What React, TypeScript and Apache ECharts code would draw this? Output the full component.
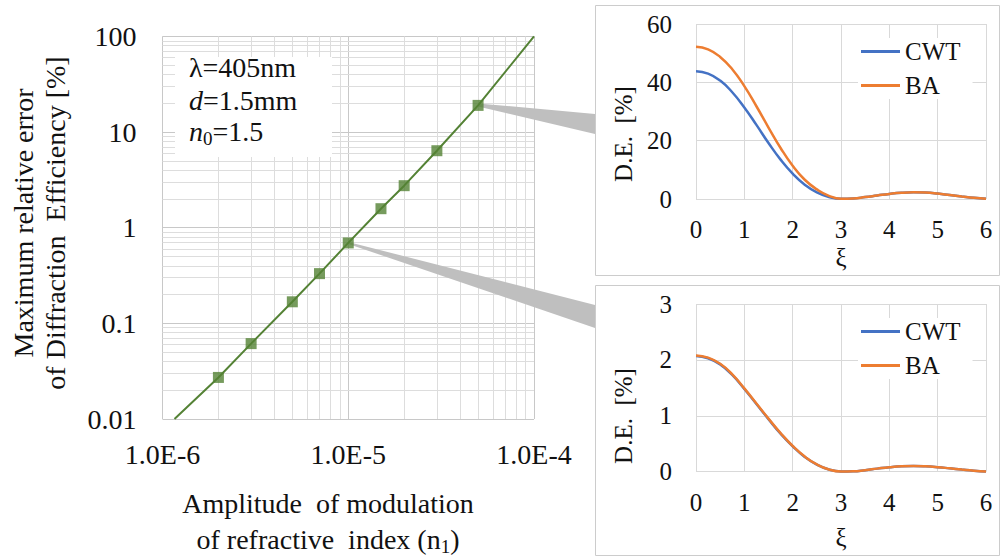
import React, { useEffect, useRef } from 'react';
import * as echarts from 'echarts';

const FONT = '"Liberation Serif", "Times New Roman", serif';

// Main chart data (log-log)
const n1Markers = [2e-6, 3e-6, 5e-6, 7e-6, 1e-5, 1.5e-5, 2e-5, 3e-5, 5e-5];
const errMarkers = [0.0272, 0.0614, 0.168, 0.331, 0.693, 1.58, 2.75, 6.38, 19.0];
const n1LineStart = 1.16e-6;
const errLineStart = 0.01;
const n1LineEnd = 1e-4;
const errLineEnd = 100;

const X_MIN = 1e-6;
const X_MAX = 1e-4;
const Y_MIN = 0.01;
const Y_MAX = 100;

const xTickLabels = ['1.0E-6', '1.0E-5', '1.0E-4'];
const yTickLabels = ['0.01', '0.1', '1', '10', '100'];

const xMinorGrid = [2e-6, 3e-6, 4e-6, 5e-6, 6e-6, 7e-6, 8e-6, 9e-6, 2e-5, 3e-5, 4e-5, 5e-5, 6e-5, 7e-5, 8e-5, 9e-5];
const yMinorGrid = [
  0.02, 0.03, 0.04, 0.05, 0.06, 0.07, 0.08, 0.09,
  0.2, 0.3, 0.4, 0.5, 0.6, 0.7, 0.8, 0.9,
  2, 3, 4, 5, 6, 7, 8, 9,
  20, 30, 40, 50, 60, 70, 80, 90,
];

// Inset data
const xi = [0, 0.25, 0.5, 0.75, 1, 1.25, 1.5, 1.75, 2, 2.25, 2.5, 2.75, 3, 3.25, 3.5, 3.75, 4, 4.25, 4.5, 4.75, 5, 5.25, 5.5, 5.75, 6];
const cwtTop = [43.8, 43.0, 40.6, 36.6, 31.4, 25.4, 19.2, 13.5, 8.7, 4.9, 2.3, 0.7, 0.05, 0.2, 0.65, 1.2, 1.75, 2.15, 2.3, 2.2, 1.85, 1.35, 0.85, 0.4, 0.1];
const baTop = [52.2, 51.3, 48.7, 44.5, 38.7, 31.8, 24.5, 17.5, 11.4, 6.6, 3.3, 1.1, 0.1, 0.2, 0.65, 1.2, 1.75, 2.15, 2.3, 2.2, 1.85, 1.35, 0.85, 0.4, 0.1];
const cwtBottom = [2.07, 2.03, 1.92, 1.73, 1.48, 1.21, 0.94, 0.68, 0.455, 0.265, 0.128, 0.04, 0.005, 0.008, 0.028, 0.055, 0.08, 0.097, 0.102, 0.096, 0.081, 0.06, 0.038, 0.018, 0.005];
const baBottom = [2.08, 2.04, 1.93, 1.74, 1.49, 1.22, 0.95, 0.69, 0.46, 0.27, 0.13, 0.04, 0.005, 0.008, 0.028, 0.055, 0.08, 0.097, 0.102, 0.096, 0.081, 0.06, 0.038, 0.018, 0.005];

const GREEN = '#548235';
const BLUE = '#4472C4';
const ORANGE = '#ED7D31';
const TEXT = '#111';

export default function App() {
  const ref = useRef<HTMLDivElement>(null);

  useEffect(() => {
    const el = ref.current as HTMLDivElement;
    const chart = echarts.init(el, undefined, { renderer: 'svg' });

    const lineData = [
      [n1LineStart, errLineStart],
      ...n1Markers.map((x, i) => [x, errMarkers[i]]),
      [n1LineEnd, errLineEnd],
    ];
    const markerData = n1Markers.map((x, i) => [x, errMarkers[i]]);
    const pairs = (ys: number[]) => xi.map((x, i) => [x, ys[i]]);

    const minorLines = [
      ...xMinorGrid.map((v) => ({ coords: [[v, Y_MIN], [v, Y_MAX]] })),
      ...yMinorGrid.map((v) => ({ coords: [[X_MIN, v], [X_MAX, v]] })),
    ];

    const insetX = (gridIndex: number) => ({
      gridIndex,
      type: 'value',
      min: 0,
      max: 6,
      interval: 1,
      axisLine: { show: false },
      axisTick: { show: false },
      splitLine: { show: true, lineStyle: { color: '#d9d9d9', width: 1 } },
      axisLabel: { fontSize: 25, fontFamily: FONT, color: TEXT, margin: 18 },
    });
    const insetY = (gridIndex: number, max: number, interval: number) => ({
      gridIndex,
      type: 'value',
      min: 0,
      max,
      interval,
      axisLine: { show: false },
      axisTick: { show: false },
      splitLine: { show: true, lineStyle: { color: '#d9d9d9', width: 1 } },
      axisLabel: { fontSize: 25, fontFamily: FONT, color: TEXT, margin: 24 },
    });
    const legendBase = {
      data: ['CWT', 'BA'],
      orient: 'vertical',
      left: 858,
      itemWidth: 39,
      itemHeight: 3,
      itemGap: 9,
      icon: 'rect',
      backgroundColor: '#fff',
      padding: [1, 12, 1, 3],
      textStyle: { fontSize: 25, fontFamily: FONT, color: TEXT, lineHeight: 24 },
    };
    const insetLine = (name: string, color: string, xIdx: number, ys: number[]) => ({
      name,
      type: 'line',
      xAxisIndex: xIdx,
      yAxisIndex: xIdx,
      data: pairs(ys),
      symbol: 'none',
      smooth: 0.5,
      lineStyle: { color, width: 2.5 },
      itemStyle: { color },
      z: 2,
    });

    const option: any = {
      animation: false,
      backgroundColor: '#fff',
      grid: [
        { left: 162.5, top: 36.4, width: 371.5, height: 382.6 },
        { left: 696, top: 24, width: 290, height: 175 },
        { left: 696, top: 304, width: 290, height: 167.7 },
      ],
      xAxis: [
        {
          gridIndex: 0,
          type: 'log',
          logBase: 10,
          min: X_MIN,
          max: X_MAX,
          splitNumber: 2,
          axisLine: { show: false },
          axisTick: { show: false },
          splitLine: { show: true, lineStyle: { color: '#c8c8c8', width: 1 } },
          axisLabel: {
            fontSize: 28,
            fontFamily: FONT,
            color: TEXT,
            margin: 21,
            formatter: (v: number) => xTickLabels[Math.round(Math.log10(v)) + 6] ?? '',
          },
        },
        insetX(1),
        insetX(2),
      ],
      yAxis: [
        {
          gridIndex: 0,
          type: 'log',
          logBase: 10,
          min: Y_MIN,
          max: Y_MAX,
          splitNumber: 4,
          axisLine: { show: false },
          axisTick: { show: false },
          splitLine: { show: true, lineStyle: { color: '#c8c8c8', width: 1 } },
          axisLabel: {
            fontSize: 28,
            fontFamily: FONT,
            color: TEXT,
            margin: 26,
            formatter: (v: number) => yTickLabels[Math.round(Math.log10(v)) + 2] ?? '',
          },
        },
        insetY(1, 60, 20),
        insetY(2, 3, 1),
      ],
      legend: [
        { ...legendBase, top: 38 },
        { ...legendBase, top: 318 },
      ],
      series: [
        {
          name: 'minorGrid',
          type: 'lines',
          coordinateSystem: 'cartesian2d',
          xAxisIndex: 0,
          yAxisIndex: 0,
          silent: true,
          z: 0,
          lineStyle: { color: '#dddddd', width: 1, opacity: 1 },
          data: minorLines,
        },
        {
          name: 'error',
          type: 'line',
          xAxisIndex: 0,
          yAxisIndex: 0,
          data: lineData,
          symbol: 'none',
          lineStyle: { color: GREEN, width: 2 },
          z: 2,
        },
        {
          name: 'errorMarkers',
          type: 'scatter',
          xAxisIndex: 0,
          yAxisIndex: 0,
          data: markerData,
          symbol: 'rect',
          symbolSize: 11,
          itemStyle: { color: GREEN },
          z: 3,
        },
        insetLine('CWT', BLUE, 1, cwtTop),
        insetLine('BA', ORANGE, 1, baTop),
        insetLine('CWT', BLUE, 2, cwtBottom),
        insetLine('BA', ORANGE, 2, baBottom),
      ],
    };

    chart.setOption(option);

    const pTop = chart.convertToPixel({ xAxisIndex: 0, yAxisIndex: 0 } as any, [n1Markers[8], errMarkers[8]]) as number[];
    const pMid = chart.convertToPixel({ xAxisIndex: 0, yAxisIndex: 0 } as any, [n1Markers[4], errMarkers[4]]) as number[];

    const textStyle = (extra: any) => ({ fontSize: 28, fontFamily: FONT, fill: TEXT, ...extra });
    const smallText = (extra: any) => ({ fontSize: 25, fontFamily: FONT, fill: TEXT, align: 'center', verticalAlign: 'middle', ...extra });

    chart.setOption({
      graphic: {
        elements: [
          {
            type: 'polygon',
            z: 1,
            silent: true,
            shape: { points: [[pTop[0], pTop[1] - 2], [595, 114], [595, 134], [pTop[0], pTop[1] + 1]] },
            style: { fill: '#bfbfbf' },
          },
          {
            type: 'polygon',
            z: 1,
            silent: true,
            shape: { points: [[pMid[0], pMid[1] - 1], [595, 305], [595, 328], [pMid[0], pMid[1] + 1]] },
            style: { fill: '#bfbfbf' },
          },
          {
            type: 'rect',
            z: 4,
            silent: true,
            shape: { x: 175, y: 57, width: 157, height: 100 },
            style: { fill: '#fff' },
          },
          {
            type: 'text',
            z: 5,
            x: 189,
            y: 67.5,
            style: textStyle({ text: 'λ=405nm', verticalAlign: 'middle' }),
          },
          {
            type: 'text',
            z: 5,
            x: 189,
            y: 100,
            style: textStyle({
              text: '{i|d}=1.5mm',
              verticalAlign: 'middle',
              rich: { i: { fontSize: 28, fontFamily: FONT, fontStyle: 'italic', fill: TEXT } },
            }),
          },
          {
            type: 'text',
            z: 5,
            x: 189,
            y: 131.5,
            style: textStyle({
              text: '{i|n}{sub|0}=1.5',
              verticalAlign: 'middle',
              rich: {
                i: { fontSize: 28, fontFamily: FONT, fontStyle: 'italic', fill: TEXT },
                sub: { fontSize: 19, fontFamily: FONT, fill: TEXT, padding: [14, 0, 0, 0] },
              },
            }),
          },
          {
            type: 'text',
            x: 23,
            y: 223,
            rotation: Math.PI / 2,
            style: textStyle({ text: 'Maximum relative error', align: 'center', verticalAlign: 'middle' }),
          },
          {
            type: 'text',
            x: 55,
            y: 223,
            rotation: Math.PI / 2,
            style: textStyle({ text: 'of Diffraction  Efficiency [%]', align: 'center', verticalAlign: 'middle' }),
          },
          {
            type: 'text',
            x: 328,
            y: 503,
            style: textStyle({ text: 'Amplitude  of modulation', align: 'center', verticalAlign: 'middle' }),
          },
          {
            type: 'text',
            x: 328,
            y: 539,
            style: textStyle({
              text: 'of refractive  index (n{sub|1})',
              align: 'center',
              verticalAlign: 'middle',
              rich: { sub: { fontSize: 19, fontFamily: FONT, fill: TEXT, padding: [14, 0, 0, 0] } },
            }),
          },
          {
            type: 'rect',
            silent: true,
            shape: { x: 595.5, y: 5.5, width: 404, height: 270 },
            style: { fill: 'none', stroke: '#cccccc', lineWidth: 1 },
          },
          {
            type: 'rect',
            silent: true,
            shape: { x: 595.5, y: 285.5, width: 404, height: 270 },
            style: { fill: 'none', stroke: '#cccccc', lineWidth: 1 },
          },
          {
            type: 'text',
            x: 623,
            y: 134,
            rotation: Math.PI / 2,
            style: smallText({ text: 'D.E.  [%]' }),
          },
          {
            type: 'text',
            x: 623,
            y: 416,
            rotation: Math.PI / 2,
            style: smallText({ text: 'D.E.  [%]' }),
          },
          {
            type: 'text',
            x: 841,
            y: 257,
            style: smallText({ text: 'ξ' }),
          },
          {
            type: 'text',
            x: 841,
            y: 537,
            style: smallText({ text: 'ξ' }),
          },
        ],
      },
    });

    return () => chart.dispose();
  }, []);

  return (
    <div
      ref={ref}
      style={{ position: 'absolute', left: 0, top: 0, width: 1004, height: 557, background: '#fff' }}
    />
  );
}
